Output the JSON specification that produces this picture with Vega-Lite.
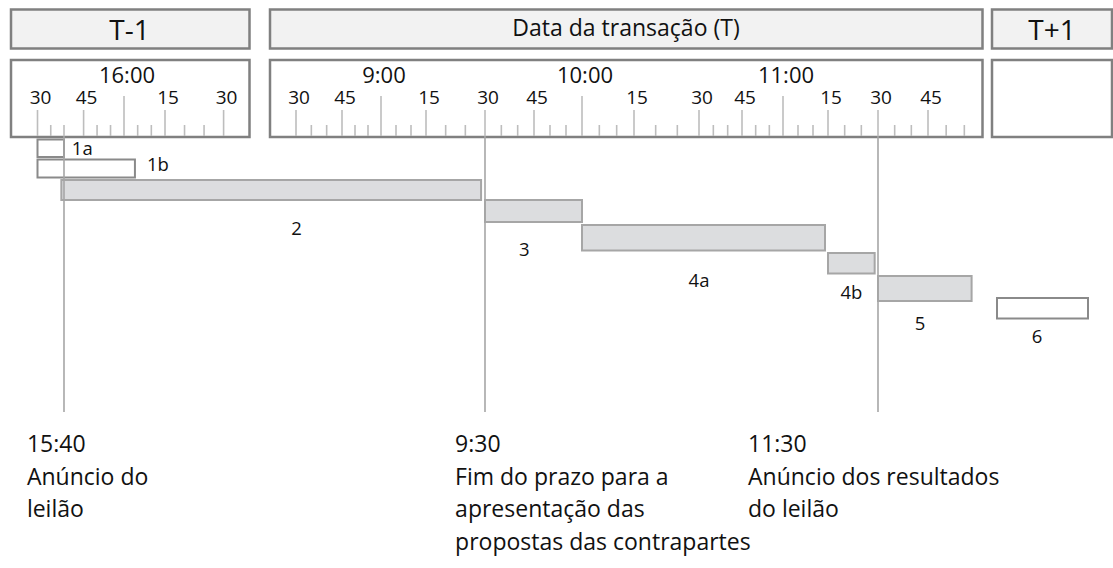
{
  "$schema": "https://vega.github.io/schema/vega-lite/v6.json",
  "width": 1113,
  "height": 568,
  "autosize": {"type": "none"},
  "padding": 0,
  "background": "#ffffff",
  "config": {"view": {"stroke": null}, "text": {"font": "Open Sans", "color": "#111111"}},
  "datasets": {
    "paineis": [
      {"dia": "T-1", "rotulo": "T-1", "t0": -520, "t1": -440, "tl": -478},
      {"dia": "T", "rotulo": "Data da transação (T)", "t0": 500, "t1": 720, "tl": 612.7},
      {"dia": "T+1", "rotulo": "T+1", "t0": 1920, "t1": 2520, "tl": 2220}
    ],
    "marcas": [
      {"t": -510, "tipo": "q", "rotulo": "30"},
      {"t": -505, "tipo": "m"}, {"t": -500, "tipo": "m"},
      {"t": -495, "tipo": "q", "rotulo": "45"},
      {"t": -490, "tipo": "m"}, {"t": -485, "tipo": "m"},
      {"t": -480, "tipo": "h", "rotulo": "16:00"},
      {"t": -475, "tipo": "m"}, {"t": -470, "tipo": "m"},
      {"t": -465, "tipo": "q", "rotulo": "15"},
      {"t": -460, "tipo": "m"}, {"t": -455, "tipo": "m"},
      {"t": -450, "tipo": "q", "rotulo": "30"},
      {"t": 510, "tipo": "q", "rotulo": "30"},
      {"t": 515, "tipo": "m"}, {"t": 520, "tipo": "m"},
      {"t": 525, "tipo": "q", "rotulo": "45"},
      {"t": 530, "tipo": "m"}, {"t": 535, "tipo": "m"},
      {"t": 540, "tipo": "h", "rotulo": "9:00"},
      {"t": 545, "tipo": "m"}, {"t": 550, "tipo": "m"},
      {"t": 555, "tipo": "q", "rotulo": "15"},
      {"t": 560, "tipo": "m"}, {"t": 565, "tipo": "m"},
      {"t": 570, "tipo": "q", "rotulo": "30"},
      {"t": 575, "tipo": "m"}, {"t": 580, "tipo": "m"},
      {"t": 585, "tipo": "q", "rotulo": "45"},
      {"t": 590, "tipo": "m"}, {"t": 595, "tipo": "m"},
      {"t": 600, "tipo": "h", "rotulo": "10:00"},
      {"t": 605, "tipo": "m"}, {"t": 610, "tipo": "m"},
      {"t": 615, "tipo": "q", "rotulo": "15"},
      {"t": 620, "tipo": "m"}, {"t": 625, "tipo": "m"},
      {"t": 630, "tipo": "q", "rotulo": "30"},
      {"t": 635, "tipo": "m"}, {"t": 640, "tipo": "m"},
      {"t": 645, "tipo": "q", "rotulo": "45"},
      {"t": 650, "tipo": "m"}, {"t": 655, "tipo": "m"},
      {"t": 660, "tipo": "h", "rotulo": "11:00"},
      {"t": 665, "tipo": "m"}, {"t": 670, "tipo": "m"},
      {"t": 675, "tipo": "q", "rotulo": "15"},
      {"t": 680, "tipo": "m"}, {"t": 685, "tipo": "m"},
      {"t": 690, "tipo": "q", "rotulo": "30"},
      {"t": 695, "tipo": "m"}, {"t": 700, "tipo": "m"},
      {"t": 705, "tipo": "q", "rotulo": "45"},
      {"t": 710, "tipo": "m"}, {"t": 715, "tipo": "m"}
    ],
    "etapas": [
      {"id": "1a", "estilo": "aberto", "t0": -510, "t1": -500, "y0": 139.5, "y1": 157, "tl": -498, "ly": 149},
      {"id": "1b", "estilo": "aberto", "t0": -510, "t1": -476, "y0": 159.5, "y1": 177.5, "tl": -471.6, "ly": 165},
      {"id": "2", "estilo": "cheio", "t0": -501, "t1": 569, "y0": 180, "y1": 200, "tl": 510.2, "ly": 229},
      {"id": "3", "estilo": "cheio", "t0": 570, "t1": 600, "y0": 200, "y1": 222, "tl": 582, "ly": 250},
      {"id": "4a", "estilo": "cheio", "t0": 600, "t1": 674, "y0": 225, "y1": 250.5, "tl": 630, "ly": 281},
      {"id": "4b", "estilo": "cheio", "t0": 675, "t1": 689, "y0": 253, "y1": 273.5, "tl": 682, "ly": 293},
      {"id": "5", "estilo": "cheio", "t0": 690, "t1": 717, "y0": 276, "y1": 301, "tl": 702.6, "ly": 324},
      {"id": "6", "estilo": "aberto", "t0": 1945, "t1": 2400, "y0": 298, "y1": 318.5, "tl": 2145, "ly": 337}
    ],
    "marcos": [
      {"t": -500, "tx": -514, "texto": "15:40\nAnúncio do\nleilão"},
      {"t": 570, "tx": 562.4, "texto": "9:30\nFim do prazo para a\napresentação das\npropostas das contrapartes"},
      {"t": 690, "tx": 647.2, "texto": "11:30\nAnúncio dos resultados\ndo leilão"}
    ]
  },
  "layer": [
    {
      "data": {"name": "paineis"},
      "mark": {"type": "rect", "fill": "#f2f2f2", "stroke": "#808080", "strokeWidth": 2.5},
      "encoding": {
        "x": {"field": "t0", "type": "quantitative", "axis": null, "scale": {"type": "linear", "domain": [-520, -510, -500, -495, -480, -465, -450, -440, 500, 510, 525, 540, 555, 570, 585, 600, 615, 630, 645, 660, 675, 690, 705, 720, 1920, 2520], "range": [11, 37.5, 64, 83.6, 124, 165, 223.6, 249.5, 270, 296, 342, 381, 426, 485, 534, 582, 634, 699, 742, 783, 828, 878, 928, 982.5, 992, 1112], "nice": false, "zero": false}},
        "x2": {"field": "t1"},
        "y": {"datum": 9.5, "type": "quantitative", "axis": null, "scale": {"domain": [0, 568], "range": [0, 568], "nice": false, "zero": false}},
        "y2": {"datum": 48.5}
      }
    },
    {
      "data": {"name": "paineis"},
      "mark": {"type": "rect", "fill": "#ffffff", "stroke": "#808080", "strokeWidth": 2.5},
      "encoding": {
        "x": {"field": "t0", "type": "quantitative", "axis": null, "scale": {"type": "linear", "domain": [-520, -510, -500, -495, -480, -465, -450, -440, 500, 510, 525, 540, 555, 570, 585, 600, 615, 630, 645, 660, 675, 690, 705, 720, 1920, 2520], "range": [11, 37.5, 64, 83.6, 124, 165, 223.6, 249.5, 270, 296, 342, 381, 426, 485, 534, 582, 634, 699, 742, 783, 828, 878, 928, 982.5, 992, 1112], "nice": false, "zero": false}},
        "x2": {"field": "t1"},
        "y": {"datum": 60, "type": "quantitative", "axis": null, "scale": {"domain": [0, 568], "range": [0, 568], "nice": false, "zero": false}},
        "y2": {"datum": 137}
      }
    },
    {
      "data": {"name": "paineis"},
      "transform": [{"filter": "datum.dia !== 'T'"}],
      "mark": {"type": "text", "fontSize": 28, "align": "center", "baseline": "alphabetic"},
      "encoding": {
        "x": {"field": "tl", "type": "quantitative", "axis": null, "scale": {"type": "linear", "domain": [-520, -510, -500, -495, -480, -465, -450, -440, 500, 510, 525, 540, 555, 570, 585, 600, 615, 630, 645, 660, 675, 690, 705, 720, 1920, 2520], "range": [11, 37.5, 64, 83.6, 124, 165, 223.6, 249.5, 270, 296, 342, 381, 426, 485, 534, 582, 634, 699, 742, 783, 828, 878, 928, 982.5, 992, 1112], "nice": false, "zero": false}},
        "y": {"datum": 39.5, "type": "quantitative", "axis": null, "scale": {"domain": [0, 568], "range": [0, 568], "nice": false, "zero": false}},
        "text": {"field": "rotulo"}
      }
    },
    {
      "data": {"name": "paineis"},
      "transform": [{"filter": "datum.dia === 'T'"}],
      "mark": {"type": "text", "fontSize": 23, "align": "center", "baseline": "alphabetic"},
      "encoding": {
        "x": {"field": "tl", "type": "quantitative", "axis": null, "scale": {"type": "linear", "domain": [-520, -510, -500, -495, -480, -465, -450, -440, 500, 510, 525, 540, 555, 570, 585, 600, 615, 630, 645, 660, 675, 690, 705, 720, 1920, 2520], "range": [11, 37.5, 64, 83.6, 124, 165, 223.6, 249.5, 270, 296, 342, 381, 426, 485, 534, 582, 634, 699, 742, 783, 828, 878, 928, 982.5, 992, 1112], "nice": false, "zero": false}},
        "y": {"datum": 35.5, "type": "quantitative", "axis": null, "scale": {"domain": [0, 568], "range": [0, 568], "nice": false, "zero": false}},
        "text": {"field": "rotulo"}
      }
    },
    {
      "data": {"name": "marcas"},
      "transform": [{"filter": "datum.tipo === 'h'"}],
      "mark": {"type": "rule", "color": "#bdbdbd", "strokeWidth": 1.6},
      "encoding": {
        "x": {"field": "t", "type": "quantitative", "axis": null, "scale": {"type": "linear", "domain": [-520, -510, -500, -495, -480, -465, -450, -440, 500, 510, 525, 540, 555, 570, 585, 600, 615, 630, 645, 660, 675, 690, 705, 720, 1920, 2520], "range": [11, 37.5, 64, 83.6, 124, 165, 223.6, 249.5, 270, 296, 342, 381, 426, 485, 534, 582, 634, 699, 742, 783, 828, 878, 928, 982.5, 992, 1112], "nice": false, "zero": false}},
        "y": {"datum": 96, "type": "quantitative", "axis": null, "scale": {"domain": [0, 568], "range": [0, 568], "nice": false, "zero": false}},
        "y2": {"datum": 136}
      }
    },
    {
      "data": {"name": "marcas"},
      "transform": [{"filter": "datum.tipo === 'q'"}],
      "mark": {"type": "rule", "color": "#bdbdbd", "strokeWidth": 1.6},
      "encoding": {
        "x": {"field": "t", "type": "quantitative", "axis": null, "scale": {"type": "linear", "domain": [-520, -510, -500, -495, -480, -465, -450, -440, 500, 510, 525, 540, 555, 570, 585, 600, 615, 630, 645, 660, 675, 690, 705, 720, 1920, 2520], "range": [11, 37.5, 64, 83.6, 124, 165, 223.6, 249.5, 270, 296, 342, 381, 426, 485, 534, 582, 634, 699, 742, 783, 828, 878, 928, 982.5, 992, 1112], "nice": false, "zero": false}},
        "y": {"datum": 110, "type": "quantitative", "axis": null, "scale": {"domain": [0, 568], "range": [0, 568], "nice": false, "zero": false}},
        "y2": {"datum": 136}
      }
    },
    {
      "data": {"name": "marcas"},
      "transform": [{"filter": "datum.tipo === 'm'"}],
      "mark": {"type": "rule", "color": "#bdbdbd", "strokeWidth": 1.6},
      "encoding": {
        "x": {"field": "t", "type": "quantitative", "axis": null, "scale": {"type": "linear", "domain": [-520, -510, -500, -495, -480, -465, -450, -440, 500, 510, 525, 540, 555, 570, 585, 600, 615, 630, 645, 660, 675, 690, 705, 720, 1920, 2520], "range": [11, 37.5, 64, 83.6, 124, 165, 223.6, 249.5, 270, 296, 342, 381, 426, 485, 534, 582, 634, 699, 742, 783, 828, 878, 928, 982.5, 992, 1112], "nice": false, "zero": false}},
        "y": {"datum": 125, "type": "quantitative", "axis": null, "scale": {"domain": [0, 568], "range": [0, 568], "nice": false, "zero": false}},
        "y2": {"datum": 136}
      }
    },
    {
      "data": {"name": "marcas"},
      "transform": [{"filter": "datum.tipo === 'h'"}],
      "mark": {"type": "text", "fontSize": 22, "align": "center", "baseline": "alphabetic", "dx": 3},
      "encoding": {
        "x": {"field": "t", "type": "quantitative", "axis": null, "scale": {"type": "linear", "domain": [-520, -510, -500, -495, -480, -465, -450, -440, 500, 510, 525, 540, 555, 570, 585, 600, 615, 630, 645, 660, 675, 690, 705, 720, 1920, 2520], "range": [11, 37.5, 64, 83.6, 124, 165, 223.6, 249.5, 270, 296, 342, 381, 426, 485, 534, 582, 634, 699, 742, 783, 828, 878, 928, 982.5, 992, 1112], "nice": false, "zero": false}},
        "y": {"datum": 82.5, "type": "quantitative", "axis": null, "scale": {"domain": [0, 568], "range": [0, 568], "nice": false, "zero": false}},
        "text": {"field": "rotulo"}
      }
    },
    {
      "data": {"name": "marcas"},
      "transform": [{"filter": "datum.tipo === 'q'"}],
      "mark": {"type": "text", "fontSize": 19, "align": "center", "baseline": "alphabetic", "dx": 3},
      "encoding": {
        "x": {"field": "t", "type": "quantitative", "axis": null, "scale": {"type": "linear", "domain": [-520, -510, -500, -495, -480, -465, -450, -440, 500, 510, 525, 540, 555, 570, 585, 600, 615, 630, 645, 660, 675, 690, 705, 720, 1920, 2520], "range": [11, 37.5, 64, 83.6, 124, 165, 223.6, 249.5, 270, 296, 342, 381, 426, 485, 534, 582, 634, 699, 742, 783, 828, 878, 928, 982.5, 992, 1112], "nice": false, "zero": false}},
        "y": {"datum": 104, "type": "quantitative", "axis": null, "scale": {"domain": [0, 568], "range": [0, 568], "nice": false, "zero": false}},
        "text": {"field": "rotulo"}
      }
    },
    {
      "data": {"name": "etapas"},
      "mark": {"type": "rect", "strokeWidth": 2},
      "encoding": {
        "x": {"field": "t0", "type": "quantitative", "axis": null, "scale": {"type": "linear", "domain": [-520, -510, -500, -495, -480, -465, -450, -440, 500, 510, 525, 540, 555, 570, 585, 600, 615, 630, 645, 660, 675, 690, 705, 720, 1920, 2520], "range": [11, 37.5, 64, 83.6, 124, 165, 223.6, 249.5, 270, 296, 342, 381, 426, 485, 534, 582, 634, 699, 742, 783, 828, 878, 928, 982.5, 992, 1112], "nice": false, "zero": false}},
        "x2": {"field": "t1"},
        "y": {"field": "y0", "type": "quantitative", "axis": null, "scale": {"domain": [0, 568], "range": [0, 568], "nice": false, "zero": false}},
        "y2": {"field": "y1"},
        "fill": {"field": "estilo", "type": "nominal", "legend": null, "scale": {"domain": ["aberto", "cheio"], "range": ["#ffffff", "#dcdddf"]}},
        "stroke": {"field": "estilo", "type": "nominal", "legend": null, "scale": {"domain": ["aberto", "cheio"], "range": ["#8a8a8a", "#a6a6a6"]}}
      }
    },
    {
      "data": {"name": "marcos"},
      "mark": {"type": "rule", "color": "#a6a6a6", "strokeWidth": 1.6},
      "encoding": {
        "x": {"field": "t", "type": "quantitative", "axis": null, "scale": {"type": "linear", "domain": [-520, -510, -500, -495, -480, -465, -450, -440, 500, 510, 525, 540, 555, 570, 585, 600, 615, 630, 645, 660, 675, 690, 705, 720, 1920, 2520], "range": [11, 37.5, 64, 83.6, 124, 165, 223.6, 249.5, 270, 296, 342, 381, 426, 485, 534, 582, 634, 699, 742, 783, 828, 878, 928, 982.5, 992, 1112], "nice": false, "zero": false}},
        "y": {"datum": 136, "type": "quantitative", "axis": null, "scale": {"domain": [0, 568], "range": [0, 568], "nice": false, "zero": false}},
        "y2": {"datum": 412}
      }
    },
    {
      "data": {"name": "etapas"},
      "transform": [{"filter": "datum.id === '1a' || datum.id === '1b'"}],
      "mark": {"type": "text", "fontSize": 18.5, "align": "left", "baseline": "middle"},
      "encoding": {
        "x": {"field": "tl", "type": "quantitative", "axis": null, "scale": {"type": "linear", "domain": [-520, -510, -500, -495, -480, -465, -450, -440, 500, 510, 525, 540, 555, 570, 585, 600, 615, 630, 645, 660, 675, 690, 705, 720, 1920, 2520], "range": [11, 37.5, 64, 83.6, 124, 165, 223.6, 249.5, 270, 296, 342, 381, 426, 485, 534, 582, 634, 699, 742, 783, 828, 878, 928, 982.5, 992, 1112], "nice": false, "zero": false}},
        "y": {"field": "ly", "type": "quantitative", "axis": null, "scale": {"domain": [0, 568], "range": [0, 568], "nice": false, "zero": false}},
        "text": {"field": "id"}
      }
    },
    {
      "data": {"name": "etapas"},
      "transform": [{"filter": "datum.id !== '1a' && datum.id !== '1b'"}],
      "mark": {"type": "text", "fontSize": 18.5, "align": "center", "baseline": "middle"},
      "encoding": {
        "x": {"field": "tl", "type": "quantitative", "axis": null, "scale": {"type": "linear", "domain": [-520, -510, -500, -495, -480, -465, -450, -440, 500, 510, 525, 540, 555, 570, 585, 600, 615, 630, 645, 660, 675, 690, 705, 720, 1920, 2520], "range": [11, 37.5, 64, 83.6, 124, 165, 223.6, 249.5, 270, 296, 342, 381, 426, 485, 534, 582, 634, 699, 742, 783, 828, 878, 928, 982.5, 992, 1112], "nice": false, "zero": false}},
        "y": {"field": "ly", "type": "quantitative", "axis": null, "scale": {"domain": [0, 568], "range": [0, 568], "nice": false, "zero": false}},
        "text": {"field": "id"}
      }
    },
    {
      "data": {"name": "marcos"},
      "mark": {"type": "text", "fontSize": 23, "align": "left", "baseline": "alphabetic", "lineBreak": "\n", "lineHeight": 32.7},
      "encoding": {
        "x": {"field": "tx", "type": "quantitative", "axis": null, "scale": {"type": "linear", "domain": [-520, -510, -500, -495, -480, -465, -450, -440, 500, 510, 525, 540, 555, 570, 585, 600, 615, 630, 645, 660, 675, 690, 705, 720, 1920, 2520], "range": [11, 37.5, 64, 83.6, 124, 165, 223.6, 249.5, 270, 296, 342, 381, 426, 485, 534, 582, 634, 699, 742, 783, 828, 878, 928, 982.5, 992, 1112], "nice": false, "zero": false}},
        "y": {"datum": 452, "type": "quantitative", "axis": null, "scale": {"domain": [0, 568], "range": [0, 568], "nice": false, "zero": false}},
        "text": {"field": "texto"}
      }
    }
  ]
}
